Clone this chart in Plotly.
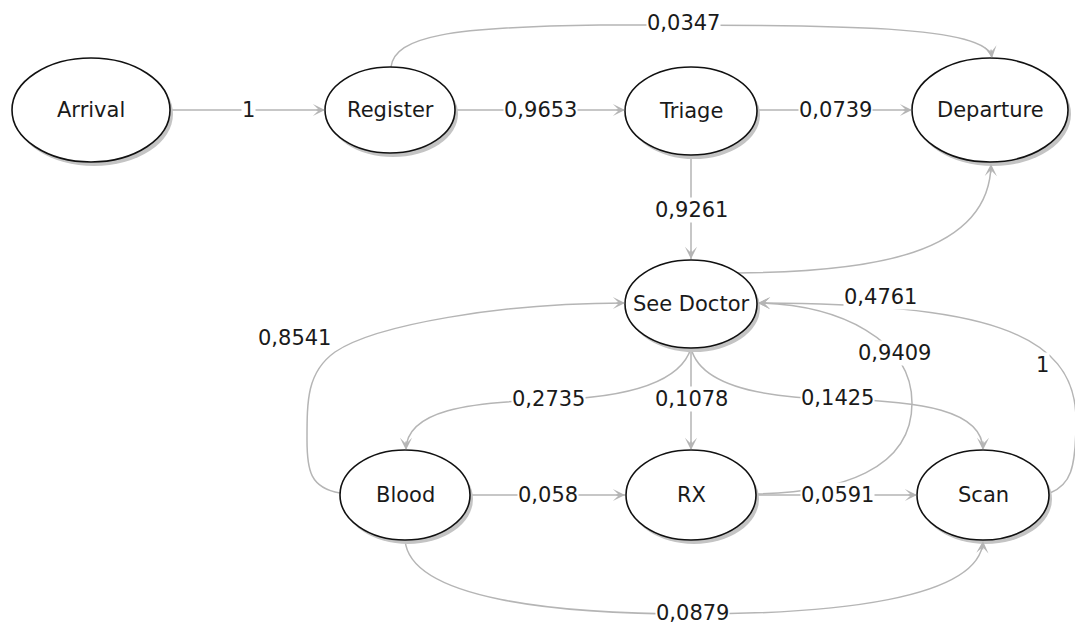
import plotly.graph_objects as go

# process map: activities and transition probabilities
nodes = ["Arrival", "Register", "Triage", "Departure", "See Doctor", "Blood", "RX", "Scan"]
sources = ["Arrival", "Register", "Register", "Triage", "Triage", "See Doctor", "See Doctor",
           "See Doctor", "See Doctor", "Blood", "Blood", "Blood", "RX", "RX", "Scan"]
targets = ["Register", "Triage", "Departure", "Departure", "See Doctor", "Departure", "Blood",
           "RX", "Scan", "See Doctor", "RX", "Scan", "See Doctor", "Scan", "See Doctor"]
weights = ["1", "0,9653", "0,0347", "0,0739", "0,9261", "0,4761", "0,2735",
           "0,1078", "0,1425", "0,8541", "0,058", "0,0879", "0,9409", "0,0591", "1"]

# layout (pixel space, y down): centre x, centre y, radius x, radius y
NODE_POS = {
    "Arrival": (91, 110, 79, 52),
    "Register": (390, 110, 65, 43),
    "Triage": (691, 111, 66, 44),
    "Departure": (990, 110, 78, 52),
    "See Doctor": (691, 304, 66, 44),
    "Blood": (405, 495, 65, 45),
    "RX": (691, 495, 65, 45),
    "Scan": (983, 495, 66, 45),
}

# bezier chains (p0, c1, c2, p1, ...) and label anchor per edge
ROUTES = {
    ("Arrival", "Register"): ([(170, 110), (220, 110), (280, 110), (325, 110)], (248, 110)),
    ("Register", "Triage"): ([(455, 110), (500, 110), (580, 110), (625, 110)], (540, 110)),
    ("Register", "Departure"): ([(391, 67), (395, 36), (450, 27), (600, 25),
                                 (850, 24), (988, 26), (992, 58)], (683, 23)),
    ("Triage", "Departure"): ([(757, 110), (800, 110), (870, 110), (912, 110)], (835, 110)),
    ("Triage", "See Doctor"): ([(691, 155), (691, 190), (691, 230), (691, 259)], (691, 210)),
    ("See Doctor", "Departure"): ([(737, 273), (870, 272), (990, 255), (991, 164)], (880, 297)),
    ("See Doctor", "Blood"): ([(691, 348), (680, 385), (620, 398), (548, 400),
                               (470, 402), (406, 410), (406, 450)], (548, 399)),
    ("See Doctor", "RX"): ([(691, 348), (691, 380), (691, 420), (691, 450)], (691, 399)),
    ("See Doctor", "Scan"): ([(691, 348), (700, 385), (760, 398), (837, 399),
                              (920, 401), (983, 410), (983, 450)], (837, 398)),
    ("Blood", "See Doctor"): ([(340, 493), (310, 488), (307, 470), (307, 440),
                               (307, 400), (307, 372), (335, 352),
                               (375, 325), (500, 303), (625, 303)], (294, 338)),
    ("Blood", "RX"): ([(470, 495), (520, 495), (580, 495), (625, 495)], (548, 495)),
    ("Blood", "Scan"): ([(405, 540), (410, 600), (560, 614), (692, 614),
                         (830, 614), (980, 600), (983, 541)], (692, 613)),
    ("RX", "See Doctor"): ([(757, 494), (840, 492), (912, 470), (912, 403),
                            (912, 340), (840, 305), (758, 303)], (894, 353)),
    ("RX", "Scan"): ([(757, 495), (800, 495), (870, 495), (917, 495)], (837, 495)),
    ("Scan", "See Doctor"): ([(1050, 493), (1070, 485), (1076, 470), (1076, 420),
                              (1076, 330), (980, 304), (758, 303)], (1042, 365)),
}

EDGE_COLOR = "#b5b5b5"
FONT = "DejaVu Sans, Verdana, sans-serif"
FONT_SIZE = 21


def _bezier_path(pts):
    d = f"M {pts[0][0]},{pts[0][1]}"
    for i in range(1, len(pts), 3):
        c1, c2, p = pts[i], pts[i + 1], pts[i + 2]
        d += f" C {c1[0]},{c1[1]} {c2[0]},{c2[1]} {p[0]},{p[1]}"
    return d


fig = go.Figure()
annotations = []

for src, tgt, w in zip(sources, targets, weights):
    pts, (lx, ly) = ROUTES[(src, tgt)]
    fig.add_shape(type="path", path=_bezier_path(pts), xref="x", yref="y",
                  line=dict(color=EDGE_COLOR, width=1.5))
    # arrowhead along the last tangent
    (cx, cy), (tx, ty) = pts[-2], pts[-1]
    dx, dy = tx - cx, ty - cy
    n = (dx * dx + dy * dy) ** 0.5
    annotations.append(dict(
        x=tx, y=ty, ax=tx - 10 * dx / n, ay=ty - 10 * dy / n,
        xref="x", yref="y", axref="x", ayref="y", text="",
        showarrow=True, arrowhead=3, arrowsize=1.35, arrowwidth=1.5,
        arrowcolor=EDGE_COLOR, standoff=0,
    ))
    annotations.append(dict(
        x=lx, y=ly, xref="x", yref="y", text=w, showarrow=False,
        bgcolor="white", borderpad=0,
        font=dict(family=FONT, size=FONT_SIZE, color="#1a1a1a"),
    ))

for name in nodes:
    x, y, rx, ry = NODE_POS[name]
    fig.add_shape(type="circle", x0=x - rx + 3, x1=x + rx + 3, y0=y - ry + 4, y1=y + ry + 4,
                  fillcolor="#c4c4c4", line=dict(width=0), xref="x", yref="y")
    fig.add_shape(type="circle", x0=x - rx, x1=x + rx, y0=y - ry, y1=y + ry,
                  fillcolor="white", line=dict(color="#111111", width=1.6), xref="x", yref="y")
    annotations.append(dict(
        x=x, y=y, xref="x", yref="y", text=name, showarrow=False,
        font=dict(family=FONT, size=FONT_SIZE, color="#1a1a1a"),
    ))

fig.update_layout(
    width=1075,
    height=625,
    margin=dict(l=0, r=0, t=0, b=0),
    paper_bgcolor="white",
    plot_bgcolor="white",
    showlegend=False,
    annotations=annotations,
    xaxis=dict(range=[0, 1075], visible=False, fixedrange=True),
    yaxis=dict(range=[625, 0], visible=False, fixedrange=True),
)

# page body has a default 8px margin; drop it so the chart fills the window
fig.write_html(
    "out.html",
    config={"displayModeBar": False},
    post_script="document.body.style.margin='0';",
)
